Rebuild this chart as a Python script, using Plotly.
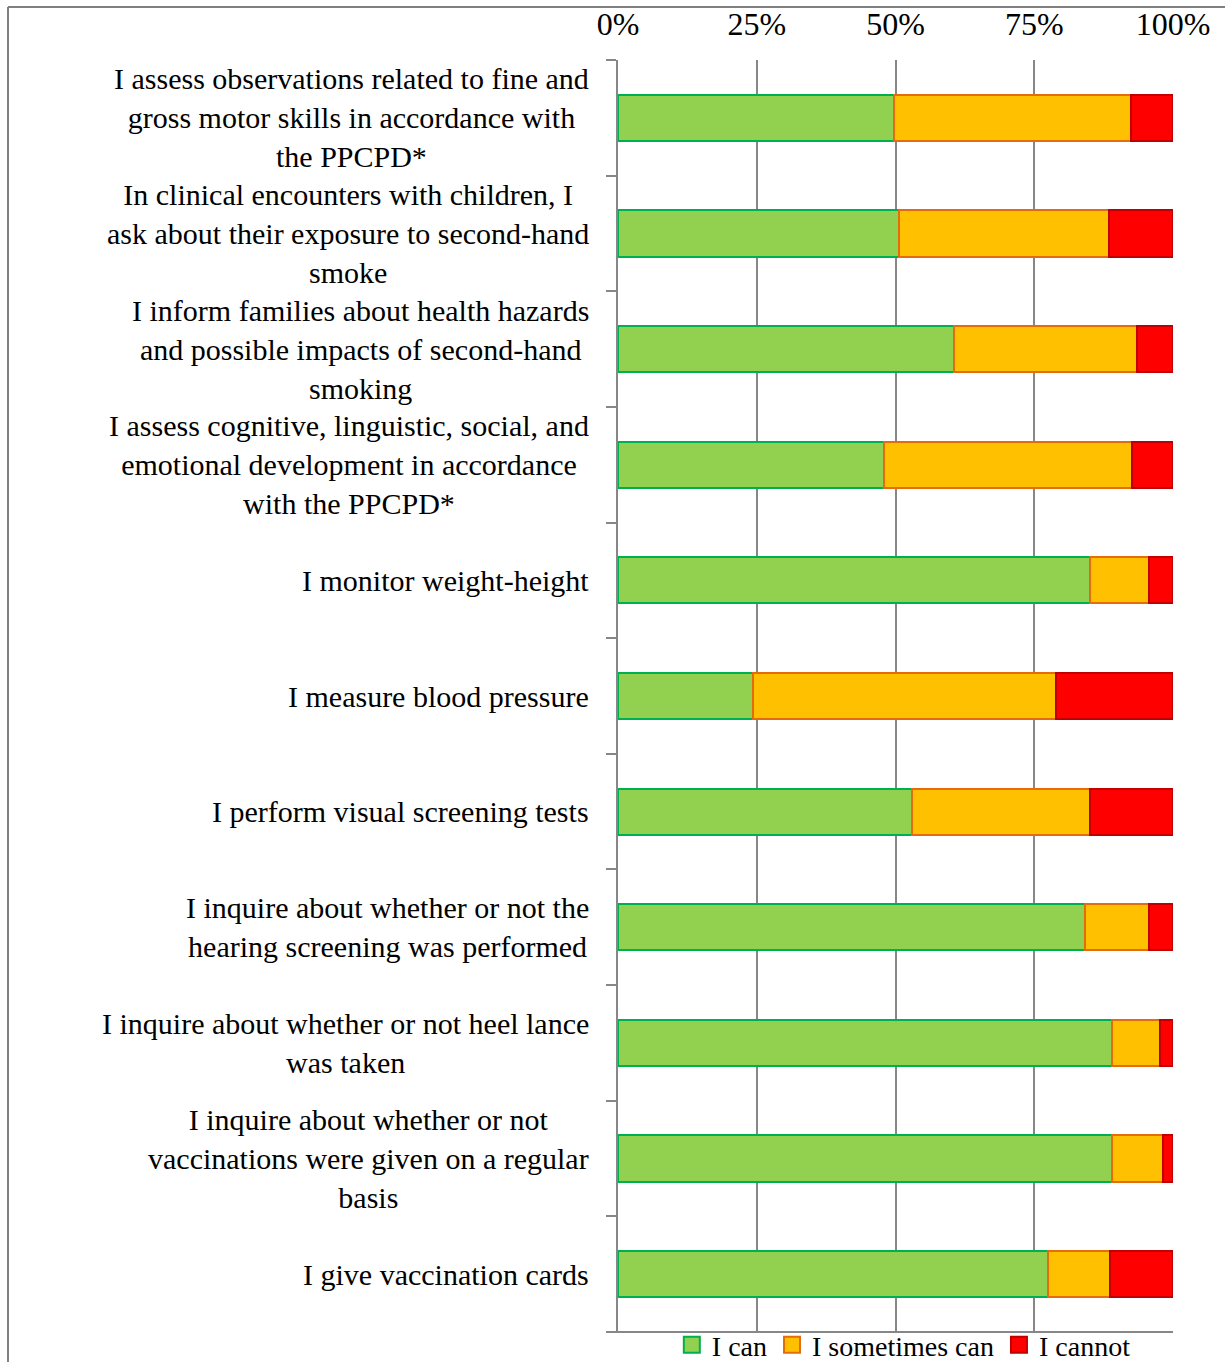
import plotly.graph_objects as go

categories = [
    "I assess observations related to fine and<br>gross motor skills in accordance with<br>the PPCPD*",
    "In clinical encounters with children, I<br>ask about their exposure to second-hand<br>smoke",
    "I inform families about health hazards<br>and possible impacts of second-hand<br>smoking",
    "I assess cognitive, linguistic, social, and<br>emotional development in accordance<br>with the PPCPD*",
    "I monitor weight-height",
    "I measure blood pressure",
    "I perform visual screening tests",
    "I inquire about whether or not the<br>hearing screening was performed",
    "I inquire about whether or not heel lance<br>was taken",
    "I inquire about whether or not<br>vaccinations were given on a regular<br>basis",
    "I give vaccination cards",
]
can = [49.7, 50.6, 60.6, 47.9, 85.1, 24.3, 53.0, 84.2, 89.0, 89.0, 77.5]
sometimes = [42.8, 37.9, 32.9, 44.8, 10.6, 54.7, 32.1, 11.5, 8.6, 9.2, 11.1]
cannot = [7.5, 11.5, 6.5, 7.3, 4.3, 21.0, 14.9, 4.3, 2.4, 1.8, 11.4]
series_names = ["I can", "I sometimes can", "I cannot"]
x_ticks = [0, 25, 50, 75, 100]

ids = list(range(len(categories)))
FONT = "Liberation Serif"
GRID = "#878787"

fig = go.Figure()
styles = [("#92D050", "#00B050"), ("#FFC000", "#E46C0A"), ("#FF0000", "#C00000")]
for name, vals, (fill, edge) in zip(series_names, [can, sometimes, cannot], styles):
    fig.add_trace(go.Bar(
        y=ids, x=vals, name=name, orientation="h", showlegend=False,
        marker=dict(color=fill, line=dict(color=edge, width=2)),
    ))
# legend entries with larger square swatches
for name, (fill, edge) in zip(series_names, styles):
    fig.add_trace(go.Scatter(
        x=[None], y=[None], name=name, mode="markers",
        marker=dict(symbol="square", size=16, color=fill, line=dict(color=edge, width=2)),
    ))

W, H = 1225, 1362
L, R, T, B = 618, 1173, 60, 1332

def px_x(p):
    return (p - L) / (R - L)

def px_y(p):
    return (B - p) / (B - T)

annotations = []
for i, c in enumerate(categories):
    annotations.append(dict(
        x=0, xref="paper", y=i, yref="y", text=c, showarrow=False,
        xanchor="right", yanchor="middle", align="center", xshift=-27,
        font=dict(family=FONT, size=30, color="black"),
    ))

shapes = [
    dict(type="line", xref="paper", yref="paper",
         x0=px_x(8), x1=px_x(1230), y0=px_y(7), y1=px_y(7),
         line=dict(color="#808080", width=2)),
    dict(type="line", xref="paper", yref="paper",
         x0=px_x(8), x1=px_x(8), y0=px_y(7), y1=px_y(1370),
         line=dict(color="#808080", width=2)),
    dict(type="line", xref="paper", yref="paper", x0=px_x(608), x1=1, y0=0, y1=0,
         line=dict(color=GRID, width=2)),
]

fig.update_layout(
    barmode="stack",
    bargap=0.6,
    width=W, height=H,
    margin=dict(l=L, r=W - R, t=T, b=H - B, pad=0, autoexpand=False),
    paper_bgcolor="white", plot_bgcolor="white",
    font=dict(family=FONT, size=28, color="black"),
    showlegend=True,
    legend=dict(orientation="h", x=0.515, xanchor="center", y=px_y(1345), yanchor="middle",
                font=dict(family=FONT, size=28, color="black"),
                traceorder="normal", itemclick=False, bgcolor="rgba(0,0,0,0)",
                tracegroupgap=0, itemwidth=30),
    annotations=annotations,
    shapes=shapes,
    xaxis=dict(side="top", range=[0, 100], tickvals=x_ticks,
               ticktext=[f"{v}%" for v in x_ticks], ticks="",
               showgrid=True, gridcolor=GRID, gridwidth=2, zeroline=False,
               showline=False, ticklabelstandoff=18,
               tickfont=dict(family=FONT, size=32, color="black")),
    yaxis=dict(type="linear", range=[len(categories) - 0.5, -0.5],
               tickvals=[k - 0.5 for k in range(len(categories) + 1)],
               showticklabels=False, ticks="outside", ticklen=10, tickwidth=2,
               tickcolor=GRID, showgrid=False, zeroline=False,
               showline=True, linecolor=GRID, linewidth=2),
)

fig.write_html("out.html")
